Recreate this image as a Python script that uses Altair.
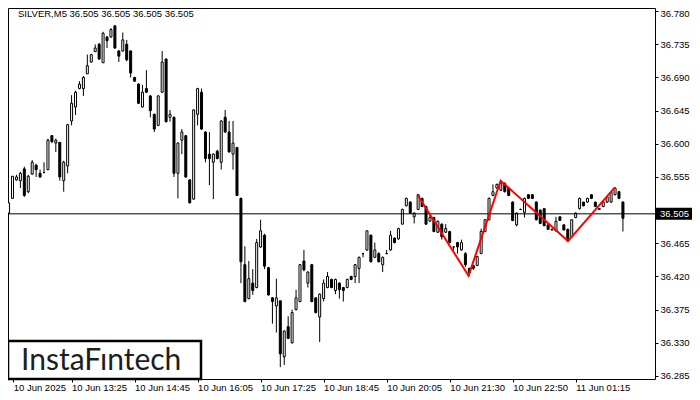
import altair as alt
import pandas as pd

# ---- data (SILVER, M5) ----
opens = [
    36.506, 36.526, 36.551, 36.550, 36.566, 36.535, 36.559, 36.571, 36.560, 36.561,
    36.565, 36.611, 36.601, 36.602, 36.550, 36.570, 36.631, 36.650, 36.675, 36.675,
    36.695, 36.711, 36.725, 36.735, 36.710, 36.745, 36.745, 36.760, 36.726, 36.726,
    36.735, 36.726, 36.690, 36.681, 36.650, 36.675, 36.665, 36.640, 36.625, 36.670,
    36.715, 36.636, 36.636, 36.560, 36.605, 36.611, 36.551, 36.525, 36.640, 36.670,
    36.616, 36.586, 36.575, 36.590, 36.575, 36.636, 36.616, 36.586, 36.595, 36.526,
    36.436, 36.390, 36.411, 36.405, 36.460, 36.476, 36.432, 36.391, 36.380, 36.387,
    36.311, 36.352, 36.330, 36.375, 36.386, 36.441, 36.411, 36.436, 36.391, 36.365,
    36.390, 36.405, 36.416, 36.401, 36.411, 36.405, 36.405, 36.420, 36.420, 36.431,
    36.451, 36.456, 36.476, 36.446, 36.451, 36.436, 36.451, 36.456, 36.472, 36.471,
    36.491, 36.516, 36.521, 36.501, 36.511, 36.526, 36.515, 36.495, 36.500, 36.480,
    36.491, 36.480, 36.481, 36.460, 36.466, 36.456, 36.451, 36.431, 36.435, 36.435,
    36.451, 36.481, 36.497, 36.530, 36.540, 36.537, 36.546, 36.540, 36.521, 36.490,
    36.511, 36.507, 36.531, 36.531, 36.521, 36.510, 36.512, 36.490, 36.484, 36.482,
    36.501, 36.490, 36.484, 36.474, 36.500, 36.512, 36.521, 36.521, 36.531, 36.521,
    36.512, 36.515, 36.521, 36.521, 36.531, 36.535, 36.521,
]
highs = [
    36.520, 36.556, 36.558, 36.562, 36.569, 36.558, 36.578, 36.573, 36.565, 36.575,
    36.607, 36.612, 36.607, 36.602, 36.577, 36.627, 36.666, 36.672, 36.685, 36.692,
    36.721, 36.722, 36.735, 36.737, 36.752, 36.746, 36.757, 36.761, 36.727, 36.751,
    36.741, 36.727, 36.691, 36.682, 36.680, 36.700, 36.666, 36.641, 36.666, 36.726,
    36.716, 36.646, 36.637, 36.602, 36.620, 36.612, 36.552, 36.647, 36.676, 36.675,
    36.617, 36.616, 36.587, 36.592, 36.632, 36.646, 36.631, 36.631, 36.596, 36.527,
    36.461, 36.441, 36.430, 36.471, 36.497, 36.478, 36.433, 36.392, 36.417, 36.387,
    36.347, 36.366, 36.375, 36.402, 36.437, 36.456, 36.427, 36.437, 36.392, 36.397,
    36.416, 36.426, 36.417, 36.417, 36.412, 36.406, 36.417, 36.421, 36.437, 36.447,
    36.452, 36.482, 36.477, 36.466, 36.453, 36.447, 36.456, 36.482, 36.473, 36.486,
    36.512, 36.527, 36.522, 36.507, 36.531, 36.527, 36.516, 36.506, 36.501, 36.496,
    36.492, 36.491, 36.482, 36.461, 36.467, 36.470, 36.453, 36.432, 36.436, 36.448,
    36.485, 36.497, 36.527, 36.545, 36.546, 36.550, 36.548, 36.541, 36.522, 36.507,
    36.512, 36.527, 36.531, 36.531, 36.522, 36.511, 36.512, 36.491, 36.485, 36.501,
    36.501, 36.491, 36.485, 36.497, 36.507, 36.527, 36.521, 36.527, 36.531, 36.521,
    36.512, 36.522, 36.529, 36.535, 36.541, 36.536, 36.522,
]
lows = [
    36.506, 36.526, 36.550, 36.540, 36.528, 36.533, 36.558, 36.555, 36.554, 36.560,
    36.564, 36.601, 36.589, 36.550, 36.535, 36.560, 36.625, 36.639, 36.674, 36.665,
    36.695, 36.710, 36.725, 36.714, 36.710, 36.730, 36.744, 36.729, 36.711, 36.725,
    36.712, 36.690, 36.684, 36.654, 36.649, 36.669, 36.636, 36.616, 36.624, 36.669,
    36.629, 36.630, 36.555, 36.526, 36.586, 36.554, 36.519, 36.524, 36.625, 36.619,
    36.575, 36.544, 36.525, 36.579, 36.565, 36.615, 36.588, 36.565, 36.529, 36.411,
    36.385, 36.389, 36.395, 36.404, 36.459, 36.430, 36.394, 36.356, 36.344, 36.297,
    36.300, 36.335, 36.329, 36.374, 36.385, 36.427, 36.405, 36.385, 36.370, 36.331,
    36.386, 36.404, 36.404, 36.396, 36.390, 36.386, 36.404, 36.415, 36.411, 36.411,
    36.446, 36.455, 36.439, 36.445, 36.439, 36.426, 36.451, 36.455, 36.465, 36.470,
    36.491, 36.515, 36.505, 36.492, 36.510, 36.514, 36.490, 36.495, 36.480, 36.479,
    36.470, 36.479, 36.465, 36.456, 36.451, 36.455, 36.433, 36.421, 36.429, 36.434,
    36.451, 36.480, 36.496, 36.529, 36.539, 36.536, 36.534, 36.529, 36.495, 36.488,
    36.510, 36.500, 36.525, 36.525, 36.496, 36.491, 36.488, 36.484, 36.483, 36.481,
    36.496, 36.483, 36.467, 36.473, 36.499, 36.511, 36.515, 36.520, 36.525, 36.514,
    36.511, 36.514, 36.520, 36.520, 36.530, 36.525, 36.481,
]
closes = [
    36.520, 36.556, 36.555, 36.560, 36.530, 36.556, 36.575, 36.565, 36.555, 36.561,
    36.605, 36.603, 36.605, 36.555, 36.575, 36.626, 36.655, 36.670, 36.681, 36.690,
    36.706, 36.721, 36.730, 36.715, 36.750, 36.740, 36.755, 36.730, 36.719, 36.741,
    36.714, 36.696, 36.685, 36.655, 36.670, 36.670, 36.645, 36.620, 36.665, 36.711,
    36.630, 36.640, 36.560, 36.601, 36.616, 36.555, 36.520, 36.646, 36.675, 36.620,
    36.580, 36.580, 36.586, 36.580, 36.631, 36.616, 36.589, 36.601, 36.530, 36.440,
    36.386, 36.417, 36.401, 36.466, 36.482, 36.434, 36.395, 36.386, 36.391, 36.315,
    36.346, 36.336, 36.371, 36.391, 36.436, 36.429, 36.426, 36.386, 36.371, 36.396,
    36.411, 36.420, 36.405, 36.416, 36.402, 36.401, 36.416, 36.416, 36.436, 36.446,
    36.451, 36.482, 36.440, 36.456, 36.440, 36.446, 36.451, 36.476, 36.466, 36.485,
    36.511, 36.526, 36.506, 36.506, 36.531, 36.515, 36.491, 36.500, 36.481, 36.495,
    36.474, 36.485, 36.466, 36.460, 36.460, 36.466, 36.436, 36.425, 36.431, 36.447,
    36.481, 36.497, 36.526, 36.535, 36.545, 36.546, 36.535, 36.530, 36.496, 36.506,
    36.511, 36.526, 36.526, 36.526, 36.497, 36.492, 36.489, 36.484, 36.483, 36.495,
    36.496, 36.483, 36.468, 36.497, 36.506, 36.526, 36.516, 36.526, 36.526, 36.515,
    36.511, 36.521, 36.528, 36.534, 36.540, 36.526, 36.499,
]

x_tick_positions = [0, 16, 32, 48, 64, 80, 96, 112, 128, 144]
x_tick_labels = ["10 Jun 2025", "10 Jun 13:25", "10 Jun 14:45", "10 Jun 16:05",
                 "10 Jun 17:25", "10 Jun 18:45", "10 Jun 20:05", "10 Jun 21:30",
                 "10 Jun 22:50", "11 Jun 01:15"]
y_ticks = [36.285, 36.330, 36.375, 36.420, 36.465, 36.510,
           36.555, 36.600, 36.645, 36.690, 36.735, 36.780]

pattern_bar = [103.95, 116.8, 124.95, 142.05, 153.95]
pattern_price = [36.530, 36.421, 36.550, 36.468, 36.541]

current_price = 36.505
symbol_title = "SILVER,M5  36.505 36.505 36.505 36.505"
logo_text = "InstaFıntech"

# ---- layout ----
W, H = 647, 371
PX_PER_BAR = 4
X_MIN = 1.125
X_MAX = X_MIN + W / PX_PER_BAR
Y_MIN, Y_MAX = 36.2809, 36.7843
FONT = "Liberation Sans"

df = pd.DataFrame({"i": list(range(len(opens))), "open": opens, "high": highs,
                   "low": lows, "close": closes})
pat = pd.DataFrame({"bar": pattern_bar, "price": pattern_price,
                    "k": list(range(len(pattern_bar)))})
cur = pd.DataFrame({"p": [current_price]})
one = pd.DataFrame({"t": [symbol_title], "logo": [logo_text]})

xs = alt.Scale(domain=[X_MIN, X_MAX], nice=False, zero=False)
ys = alt.Scale(domain=[Y_MIN, Y_MAX], nice=False, zero=False)

tick_vals = [max(v, X_MIN + 0.05) for v in x_tick_positions]
labels_js = "[" + ",".join("'%s'" % s for s in x_tick_labels) + "]"
vals_js = "[" + ",".join(repr(v) for v in tick_vals) + "]"
x_axis = alt.Axis(values=tick_vals,
                  labelExpr=f"{labels_js}[indexof({vals_js}, datum.value)]",
                  tickSize=3, labelPadding=0, labelAlign="left", labelBaseline="top",
                  labelFlush=False, labelOverlap=False, title=None, grid=False, domain=False)
y_axis = alt.Axis(orient="right", values=y_ticks, format=".3f", tickSize=3,
                  labelPadding=2, labelBaseline="middle", labelFlush=False,
                  labelOffset=alt.condition("datum.value > 36.77", alt.value(2), alt.value(0)),
                  labelOverlap=False, title=None, grid=False, domain=False)

X = alt.X("i:Q", scale=xs, axis=x_axis, title=None)

wicks = alt.Chart(df).mark_rule(color="black", strokeWidth=1, clip=True).encode(
    x=X, y=alt.Y("low:Q", scale=ys, axis=y_axis, title=None), y2="high:Q")

bodies = alt.Chart(df).mark_bar(size=2, stroke="black", strokeWidth=1, clip=True).encode(
    x=X, y=alt.Y("open:Q", scale=ys, axis=y_axis, title=None), y2="close:Q",
    fill=alt.condition("datum.close > datum.open", alt.value("white"), alt.value("black")))

price_line = alt.Chart(cur).mark_rule(color="black", strokeWidth=1).encode(
    y=alt.Y("p:Q", scale=ys, axis=y_axis, title=None))

pattern = alt.Chart(pat).mark_line(color="#ff0000", strokeWidth=2, clip=True).encode(
    x=alt.X("bar:Q", scale=xs, axis=x_axis, title=None),
    y=alt.Y("price:Q", scale=ys, axis=y_axis, title=None), order="k:O")

price_box = alt.Chart(cur).mark_rect(color="black", yOffset=-6, y2Offset=6).encode(
    y=alt.Y("p:Q", scale=ys, axis=y_axis, title=None), y2="p:Q",
    x=alt.value(W + 1), x2=alt.value(W + 37))
price_txt = alt.Chart(cur).mark_text(color="white", align="left", baseline="middle",
                                      font=FONT, fontSize=9.5).encode(
    y=alt.Y("p:Q", scale=ys, axis=y_axis, title=None), x=alt.value(W + 5),
    text=alt.Text("p:Q", format=".3f"))

title_txt = alt.Chart(one).mark_text(align="left", baseline="middle", font=FONT,
                                      fontSize=9.5, color="black").encode(
    x=alt.value(10), y=alt.value(5.5), text="t:N")

logo_box = alt.Chart(one).mark_rect(fill="white", stroke="black", strokeWidth=2.5).encode(
    x=alt.value(0), x2=alt.value(193), y=alt.value(333), y2=alt.value(371))
logo_txt = alt.Chart(one).mark_text(align="left", baseline="alphabetic", font="Lato",
                                     fontSize=30, color="#1e1e1e").encode(
    x=alt.value(13), y=alt.value(362), text="logo:N")

chart = alt.layer(
    wicks, bodies, price_line, pattern, price_box, price_txt, title_txt, logo_box, logo_txt
).properties(
    width=W, height=H,
    autosize=alt.AutoSizeParams(type="none"),
    padding={"left": 0, "top": 0, "right": 684 - W, "bottom": 13},
    background="white",
).configure_view(stroke="black", strokeWidth=1).configure_axis(
    labelFont=FONT, labelFontSize=9.5, labelColor="black", tickColor="black", tickWidth=1)

chart.save("out.html", embed_options={"renderer": "svg", "actions": False})
